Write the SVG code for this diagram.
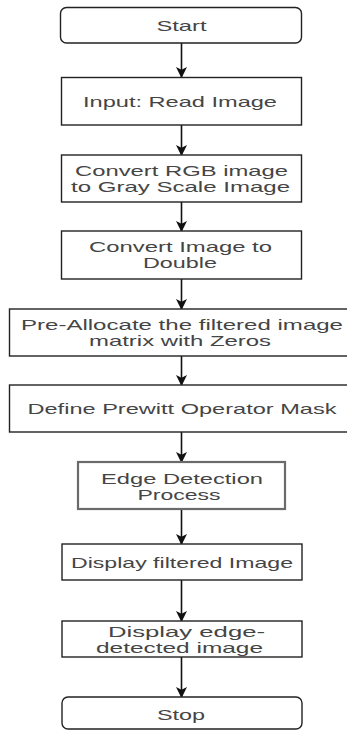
<svg xmlns="http://www.w3.org/2000/svg" width="347" height="731" viewBox="0 0 347 731">
  <style>
    .box { fill: #ffffff; stroke: #222222; stroke-width: 1.4; }
    .sub { fill: #ffffff; stroke: #6a6a6a; stroke-width: 2.2; }
    .lbl { font-family: "Liberation Sans", Arial, sans-serif; font-size: 15px; fill: #454545; text-anchor: middle; }
    .edge { fill: none; stroke: #111111; stroke-width: 1.6; }
  </style>
  <defs>
    <marker id="arrow" viewBox="0 0 10 10" refX="9" refY="5" markerUnits="userSpaceOnUse" markerWidth="11" markerHeight="12" orient="auto">
      <path d="M0,0 L10,5 L0,10 L2.5,5 Z" fill="#111111"/>
    </marker>
  </defs>
  <rect width="347" height="731" fill="#ffffff"/>

  <g id="connectors">
    <line class="edge" x1="181.5" y1="43" x2="181.5" y2="77" marker-end="url(#arrow)"/>
    <line class="edge" x1="181.5" y1="125" x2="181.5" y2="155" marker-end="url(#arrow)"/>
    <line class="edge" x1="181.5" y1="202" x2="181.5" y2="231" marker-end="url(#arrow)"/>
    <line class="edge" x1="181.5" y1="279" x2="181.5" y2="309" marker-end="url(#arrow)"/>
    <line class="edge" x1="181.5" y1="356" x2="181.5" y2="385" marker-end="url(#arrow)"/>
    <line class="edge" x1="181.5" y1="432" x2="181.5" y2="462" marker-end="url(#arrow)"/>
    <line class="edge" x1="181.5" y1="509" x2="181.5" y2="544" marker-end="url(#arrow)"/>
    <line class="edge" x1="181.5" y1="580" x2="181.5" y2="621" marker-end="url(#arrow)"/>
    <line class="edge" x1="181.5" y1="657" x2="181.5" y2="697" marker-end="url(#arrow)"/>
  </g>

  <g id="start">
    <rect class="box" x="60.5" y="7.5" width="241" height="35.5" rx="6"/>
    <text class="lbl" x="181.5" y="31" textLength="50" lengthAdjust="spacingAndGlyphs">Start</text>
  </g>

  <g id="read-image">
    <rect class="box" x="61.5" y="77.5" width="240" height="47.5"/>
    <text class="lbl" x="180" y="107" textLength="194" lengthAdjust="spacingAndGlyphs">Input: Read Image</text>
  </g>

  <g id="to-gray">
    <rect class="box" x="61.5" y="155" width="240" height="47"/>
    <text class="lbl" x="181.5" y="176" textLength="213" lengthAdjust="spacingAndGlyphs">Convert RGB image</text>
    <text class="lbl" x="180.5" y="192" textLength="219" lengthAdjust="spacingAndGlyphs">to Gray Scale Image</text>
  </g>

  <g id="to-double">
    <rect class="box" x="61.5" y="231" width="240" height="48"/>
    <text class="lbl" x="180.5" y="252" textLength="183" lengthAdjust="spacingAndGlyphs">Convert Image to</text>
    <text class="lbl" x="180" y="268" textLength="74" lengthAdjust="spacingAndGlyphs">Double</text>
  </g>

  <g id="preallocate">
    <rect class="box" x="9.5" y="309" width="345" height="47"/>
    <text class="lbl" x="182" y="330" textLength="322" lengthAdjust="spacingAndGlyphs">Pre-Allocate the filtered image</text>
    <text class="lbl" x="180" y="346" textLength="182" lengthAdjust="spacingAndGlyphs">matrix with Zeros</text>
  </g>

  <g id="prewitt-mask">
    <rect class="box" x="9.5" y="385" width="345" height="47"/>
    <text class="lbl" x="182" y="414" textLength="309" lengthAdjust="spacingAndGlyphs">Define Prewitt Operator Mask</text>
  </g>

  <g id="edge-detection">
    <rect class="sub" x="78" y="462" width="207" height="47"/>
    <text class="lbl" x="182" y="484" textLength="162" lengthAdjust="spacingAndGlyphs">Edge Detection</text>
    <text class="lbl" x="179" y="500" textLength="83" lengthAdjust="spacingAndGlyphs">Process</text>
  </g>

  <g id="show-filtered">
    <rect class="box" x="62" y="544" width="240" height="36"/>
    <text class="lbl" x="182" y="568" textLength="222" lengthAdjust="spacingAndGlyphs">Display filtered Image</text>
  </g>

  <g id="show-edges">
    <rect class="box" x="62" y="621" width="240" height="36"/>
    <text class="lbl" x="186.5" y="637" textLength="157" lengthAdjust="spacingAndGlyphs">Display edge-</text>
    <text class="lbl" x="179.5" y="653" textLength="167" lengthAdjust="spacingAndGlyphs">detected image</text>
  </g>

  <g id="stop">
    <rect class="box" x="62" y="697" width="240" height="32" rx="6"/>
    <text class="lbl" x="181" y="720" textLength="48" lengthAdjust="spacingAndGlyphs">Stop</text>
  </g>
</svg>
